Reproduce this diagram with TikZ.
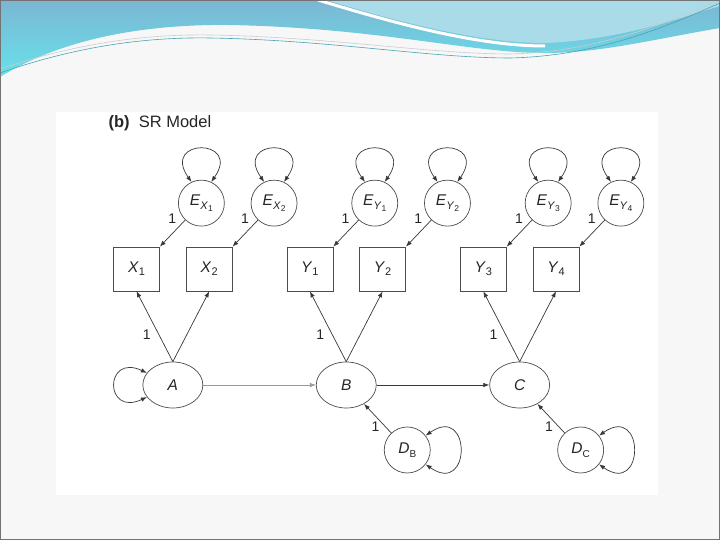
\documentclass[tikz,border=0pt]{standalone}
\usepackage{fontspec}
\setmainfont{Liberation Sans}
\usetikzlibrary{arrows.meta,positioning,shapes.geometric,calc}

\definecolor{wavetop}{HTML}{7CB6D3}
\definecolor{wavecyan}{HTML}{66E2EA}
\definecolor{wavelight}{HTML}{A9DBE8}
\definecolor{waveline}{HTML}{4AA3B8}

% variable names with subscripts
\newcommand{\ivar}[2]{\textit{#1}\raisebox{-0.4ex}{\fontsize{11}{11}\selectfont #2}}
\newcommand{\evar}[2]{\textit{E}\raisebox{-0.45ex}{\fontsize{11}{11}\selectfont\textit{#1}\raisebox{-0.35ex}{\fontsize{8.5}{8.5}\selectfont #2}}}
\newcommand{\dvar}[1]{\textit{D}\raisebox{-0.45ex}{\fontsize{10}{10}\selectfont #1}}

\begin{document}
\begin{tikzpicture}[
  x=1pt, y=1pt,
  font=\fontsize{15.5}{18}\selectfont,
  node distance=26pt and 26pt,
  ind/.style={
    draw=black!70,
    line width=0.7pt,
    text=black!85,
    minimum width=46pt,
    minimum height=44pt,
    inner sep=0pt
  },
  err/.style={ind, circle, minimum size=46pt},
  lat/.style={ind, ellipse, minimum width=60pt, minimum height=46pt},
  arrow/.style={-{Latex[length=6pt,width=4.5pt]}, line width=0.7pt, draw=black!78},
  covar/.style={{Latex[length=6pt,width=4.5pt]}-{Latex[length=6pt,width=4.5pt]}, line width=0.7pt, draw=black!78},
  one/.style={font=\fontsize{14}{16}\selectfont, text=black!85, inner sep=1pt}
]
\useasboundingbox (0,0) rectangle (720,540);

% slide backdrop
\fill[black!3] (0,0) rectangle (720,540);
\fill[white] (56,45) rectangle (658,428);
\shade[top color=wavetop, bottom color=wavecyan]
  (0,540) -- (720,540) -- (720,512)
  .. controls (650,500) and (600,487) .. (545,487)
  .. controls (470,487) and (380,512) .. (230,515)
  .. controls (140,516) and (60,500) .. (0,463) -- cycle;
\draw[white, line width=3pt] (318,540) .. controls (400,515) and (480,494) .. (545,494);
\fill[wavelight] (326,540) .. controls (405,516) and (482,497) .. (545,497)
  .. controls (620,500) and (680,522) .. (720,534) -- (720,540) -- cycle;
\draw[waveline, line width=0.6pt] (0,467) .. controls (80,495) and (150,503) .. (210,502)
  .. controls (330,500) and (430,482) .. (510,482)
  .. controls (600,484) and (670,515) .. (720,537);
\draw[black!20, line width=0.6pt] (0,471) .. controls (80,498) and (150,506) .. (210,505)
  .. controls (330,503) and (430,486) .. (510,486)
  .. controls (600,488) and (670,519) .. (720,540);
\draw[black!55, line width=1pt] (0.5,0.5) rectangle (719.5,539.5);

\node[anchor=west, text=black!85, font=\fontsize{16.5}{18}\selectfont] (title) at (105,417) {\textbf{(b)}\ \ SR Model};

% indicators
\node[ind] (X1) at (136.5,271) {\ivar{X}{1}};
\node[ind, right=of X1] (X2) {\ivar{X}{2}};
\node[ind, right=54pt of X2] (Y1) {\ivar{Y}{1}};
\node[ind, right=of Y1] (Y2) {\ivar{Y}{2}};
\node[ind, right=54pt of Y2] (Y3) {\ivar{Y}{3}};
\node[ind, right=of Y3] (Y4) {\ivar{Y}{4}};

% error terms
\node[err, above right=27pt and 25pt of X1] (EX1) {\evar{X}{1}};
\node[err, above right=27pt and 25pt of X2] (EX2) {\evar{X}{2}};
\node[err, above right=27pt and 25pt of Y1] (EY1) {\evar{Y}{1}};
\node[err, above right=27pt and 25pt of Y2] (EY2) {\evar{Y}{2}};
\node[err, above right=27pt and 25pt of Y3] (EY3) {\evar{Y}{3}};
\node[err, above right=27pt and 25pt of Y4] (EY4) {\evar{Y}{4}};

% latents and disturbances
\node[lat] (A) at ($(X1)!.5!(X2)+(0,-116)$) {\textit{A}};
\node[lat] (B) at ($(Y1)!.5!(Y2)+(0,-116)$) {\textit{B}};
\node[lat] (C) at ($(Y3)!.5!(Y4)+(0,-116)$) {\textit{C}};
\node[err] (DB) at ($(B)+(61,-65)$) {\dvar{B}};
\node[err] (DC) at ($(C)+(61,-65)$) {\dvar{C}};

% variances
\foreach \e in {EX1,EX2,EY1,EY2,EY3,EY4}
  \draw[covar] (\e.115) to[out=125,in=55,looseness=7] (\e.65);
\draw[covar] (A.155) to[out=155,in=205,looseness=5] (A.205);
\draw[covar] (DB.38) to[out=35,in=-35,looseness=5] (DB.-38);
\draw[covar] (DC.38) to[out=35,in=-35,looseness=5] (DC.-38);

% error paths
\draw[arrow] (EX1) -- node[one, pos=.25, above left=2pt] {1} (X1.north east);
\draw[arrow] (EX2) -- node[one, pos=.25, above left=2pt] {1} (X2.north east);
\draw[arrow] (EY1) -- node[one, pos=.25, above left=2pt] {1} (Y1.north east);
\draw[arrow] (EY2) -- node[one, pos=.25, above left=2pt] {1} (Y2.north east);
\draw[arrow] (EY3) -- node[one, pos=.25, above left=2pt] {1} (Y3.north east);
\draw[arrow] (EY4) -- node[one, pos=.25, above left=2pt] {1} (Y4.north east);

% loadings
\draw[arrow] (A.north) -- node[one, pos=.38, left=7pt] {1} (X1.south);
\draw[arrow] (A.north) -- (X2.south);
\draw[arrow] (B.north) -- node[one, pos=.38, left=7pt] {1} (Y1.south);
\draw[arrow] (B.north) -- (Y2.south);
\draw[arrow] (C.north) -- node[one, pos=.38, left=7pt] {1} (Y3.south);
\draw[arrow] (C.north) -- (Y4.south);

% structural paths
\draw[arrow, draw=black!40] (A) -- (B);
\draw[arrow] (B) -- (C);
\draw[arrow] (DB) -- node[one, pos=.2, left=5pt] {1} (B);
\draw[arrow] (DC) -- node[one, pos=.2, left=5pt] {1} (C);

\end{tikzpicture}
\end{document}
